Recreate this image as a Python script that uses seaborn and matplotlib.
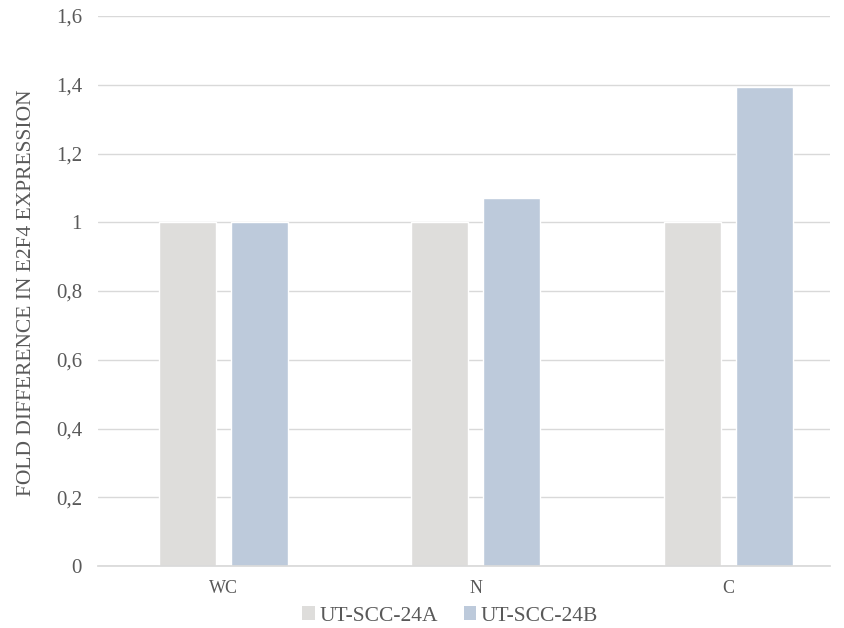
import matplotlib
matplotlib.use("Agg")
import matplotlib.pyplot as plt
import seaborn as sns
import pandas as pd
from matplotlib.patches import Patch

categories = ["WC", "N", "C"]
series_names = ["UT-SCC-24A", "UT-SCC-24B"]
values_a = [1.0, 1.0, 1.0]
values_b = [1.0, 1.07, 1.393]
y_ticks = [0, 0.2, 0.4, 0.6, 0.8, 1.0, 1.2, 1.4, 1.6]
y_tick_labels = ["0", "0,2", "0,4", "0,6", "0,8", "1", "1,2", "1,4", "1,6"]
colors = ["#DEDDDB", "#BDCADB"]

df = pd.DataFrame({
    "category": categories * 2,
    "series": [series_names[0]] * 3 + [series_names[1]] * 3,
    "value": values_a + values_b,
})

sns.set_theme(style="white")
plt.rcParams["font.family"] = ["Liberation Serif", "DejaVu Serif"]

fig = plt.figure(figsize=(8.44, 6.28), dpi=100)
ax = fig.add_axes([98 / 844, 1 - 566 / 628, 732 / 844, 550 / 628])

sns.barplot(data=df, x="category", y="value", hue="series", order=categories,
            hue_order=series_names, palette=colors, width=0.568, gap=0.205,
            ax=ax, legend=False, saturation=1)

ax.set_xlim(-0.496, 2.403)
ax.set_ylim(0, 1.6)
ax.set_yticks(y_ticks)
ax.set_yticklabels(y_tick_labels)
ax.yaxis.grid(True, color="#D9D9D9", linewidth=1)
ax.set_axisbelow(True)
for s in ["top", "right", "left"]:
    ax.spines[s].set_visible(False)
ax.spines["bottom"].set_color("#D9D9D9")
ax.tick_params(axis="both", length=0, colors="#595959")
ax.tick_params(axis="y", pad=11.5, labelsize=15)
ax.tick_params(axis="x", pad=10, labelsize=13)
ax.set_xlabel("")
ax.set_ylabel("FOLD DIFFERENCE IN E2F4 EXPRESSION", color="#595959", fontsize=15.5)
ax.yaxis.set_label_coords(-0.098, 0.497)
ax.yaxis.label.set_verticalalignment("center")

handles = [Patch(facecolor=c, edgecolor="none") for c in colors]
fig.legend(handles, series_names, loc="center", bbox_to_anchor=(450 / 844, 1 - 616 / 628), ncol=2,
           frameon=False, fontsize=15.5, labelcolor="#595959", handlelength=0.6,
           handleheight=0.6, handletextpad=0.2, columnspacing=1.2,
           borderpad=0, borderaxespad=0)

fig.savefig("out.png", dpi=100)
